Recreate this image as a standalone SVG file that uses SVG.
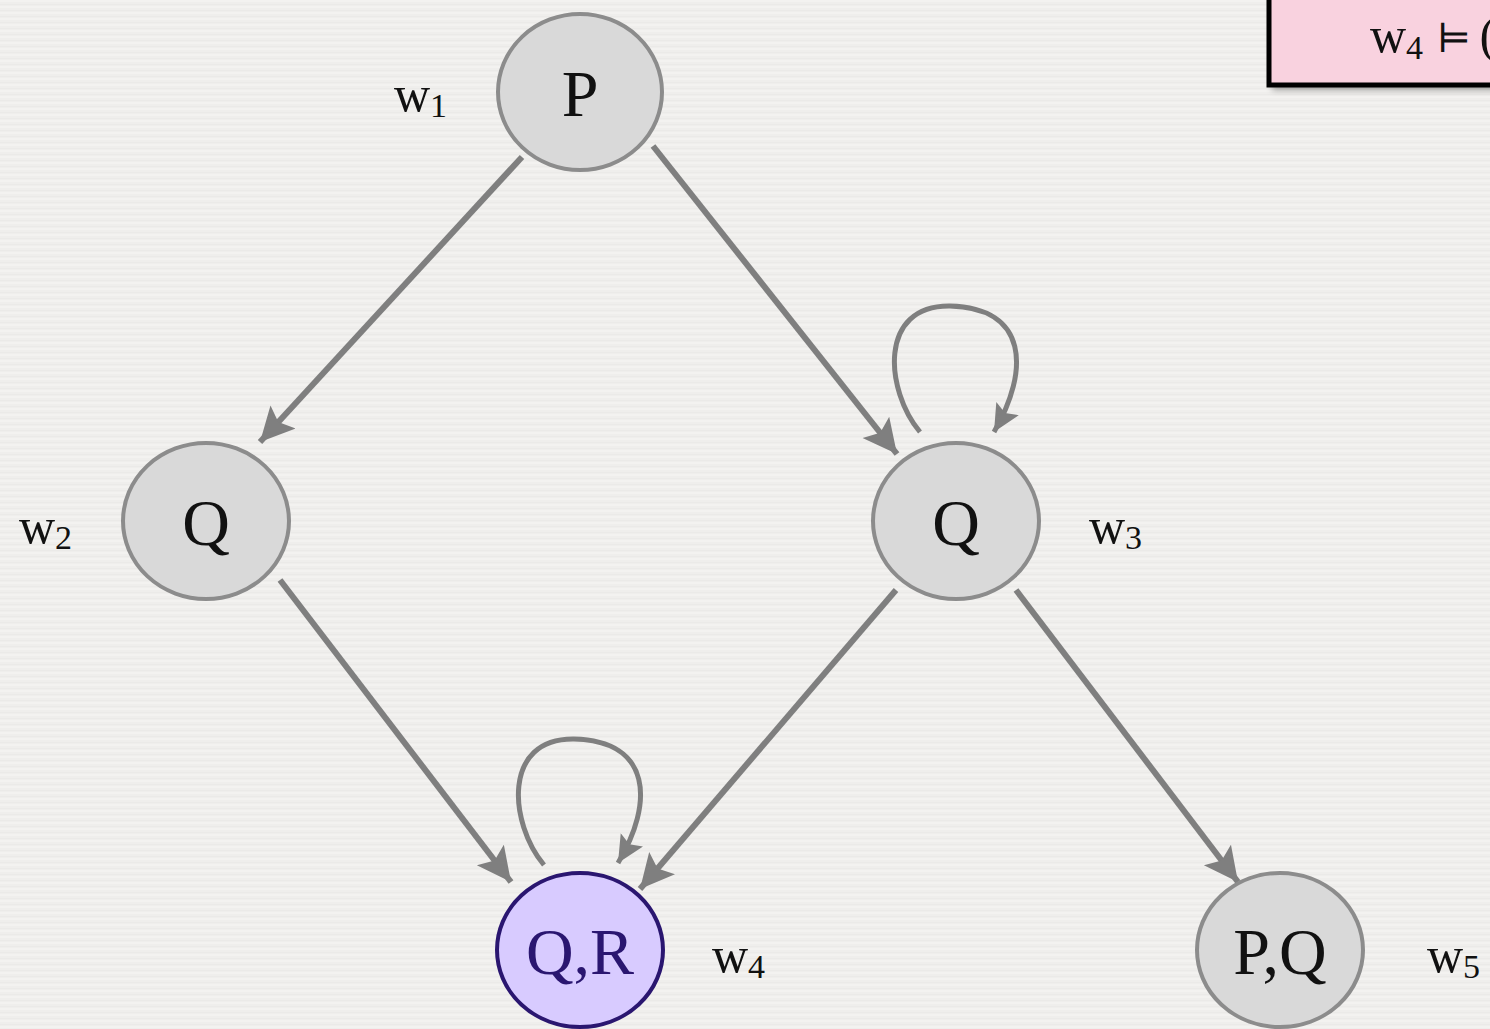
<svg xmlns="http://www.w3.org/2000/svg" width="1490" height="1029" viewBox="0 0 1490 1029">
  <defs>
    <pattern id="paper" width="40" height="6" patternUnits="userSpaceOnUse">
      <rect width="40" height="6" fill="#efeeec"/>
      <rect y="0" width="40" height="2" fill="#f3f2f0"/>
      <rect y="4" width="40" height="1" fill="#ebeae8"/>
    </pattern>
    <!-- notched arrowhead for the straight relations -->
    <marker id="arrow" markerUnits="userSpaceOnUse" markerWidth="36" markerHeight="36" refX="34" refY="17" orient="auto" viewBox="0 0 36 36">
      <path d="M0,0 L34,17 L0,34 L7,17 Z" fill="#7f7f7f"/>
    </marker>
    <!-- smaller head for reflexive loops -->
    <marker id="arrow-loop" markerUnits="userSpaceOnUse" markerWidth="30" markerHeight="28" refX="27" refY="13" orient="auto" viewBox="0 0 30 28">
      <path d="M0,0 L27,13 L0,26 L5,13 Z" fill="#7f7f7f"/>
    </marker>
    <filter id="shadow" x="-10%" y="-10%" width="130%" height="150%">
      <feGaussianBlur stdDeviation="3"/>
    </filter>
  </defs>
  <style>
    .world { fill: #d9d9d9; stroke: #8c8c8c; stroke-width: 4; }
    .focus { fill: #d8cbff; stroke: #2a1670; stroke-width: 4; }
    .prop { font-family: "Liberation Serif", "DejaVu Serif", serif; font-size: 66px; fill: #111; text-anchor: middle; }
    .prop-focus { fill: #2a1670; }
    .wname { font-family: "Liberation Serif", "DejaVu Serif", serif; font-size: 50px; fill: #111; }
    .sub { font-size: 34px; }
    .edge { fill: none; stroke: #7f7f7f; stroke-width: 6; marker-end: url(#arrow); }
    .loop { fill: none; stroke: #7f7f7f; stroke-width: 5; marker-end: url(#arrow-loop); }
  </style>

  <rect width="1490" height="1029" fill="url(#paper)"/>

  <!-- formula box, top right -->
  <g id="formula">
    <rect x="1272" y="-8" width="240" height="98" fill="#000" opacity="0.35" filter="url(#shadow)"/>
    <rect x="1269" y="-10" width="240" height="95" fill="#f9d2df" stroke="#000" stroke-width="5"/>
    <text class="wname" x="1370" y="52">w<tspan class="sub" dy="7">4</tspan><tspan dy="-7" dx="14" font-family="DejaVu Serif, serif" font-size="40">⊨</tspan><tspan dx="8">(</tspan></text>
  </g>

  <!-- accessibility relation -->
  <g id="edges">
    <path class="edge" d="M522,157 L260,442"/>
    <path class="edge" d="M653,146 L897,454"/>
    <path class="edge" d="M280,580 L511,882"/>
    <path class="edge" d="M896,590 L640,889"/>
    <path class="edge" d="M1016,590 L1238,882"/>
    <path class="loop" d="M920,432 C885,390 878,305 950,306 C1028,308 1030,370 994,432"/>
    <path class="loop" d="M544,865 C509,823 502,738 574,739 C652,741 654,803 618,863"/>
  </g>

  <g id="w1">
    <ellipse class="world" cx="580" cy="92" rx="82" ry="78"/>
    <text class="prop" x="580" y="116">P</text>
    <text class="wname" x="394" y="111">w<tspan class="sub" dy="6">1</tspan></text>
  </g>
  <g id="w2">
    <ellipse class="world" cx="206" cy="521" rx="83" ry="78"/>
    <text class="prop" x="206" y="545">Q</text>
    <text class="wname" x="19" y="543">w<tspan class="sub" dy="6">2</tspan></text>
  </g>
  <g id="w3">
    <ellipse class="world" cx="956" cy="521" rx="83" ry="78"/>
    <text class="prop" x="956" y="545">Q</text>
    <text class="wname" x="1089" y="543">w<tspan class="sub" dy="6">3</tspan></text>
  </g>
  <g id="w4">
    <ellipse class="focus" cx="580" cy="950" rx="83" ry="77"/>
    <text class="prop prop-focus" x="580" y="974">Q,R</text>
    <text class="wname" x="712" y="972">w<tspan class="sub" dy="6">4</tspan></text>
  </g>
  <g id="w5">
    <ellipse class="world" cx="1280" cy="950" rx="83" ry="77"/>
    <text class="prop" x="1280" y="974">P,Q</text>
    <text class="wname" x="1427" y="972">w<tspan class="sub" dy="6">5</tspan></text>
  </g>
</svg>
